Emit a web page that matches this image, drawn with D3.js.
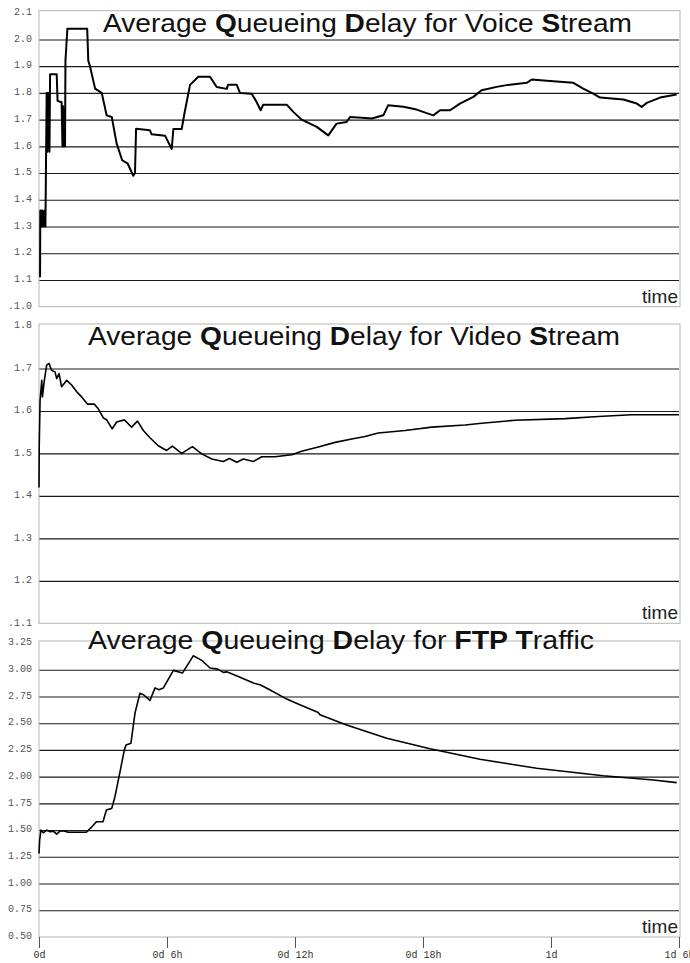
<!DOCTYPE html>
<html>
<head>
<meta charset="utf-8">
<script src="https://d3js.org/d3.v7.min.js"></script>
<style>
  body { margin:0; background:#fff; }
  .grid line { stroke:#1a1a1a; stroke-width:1.1px; }
  .grid path { display:none; }
  .ylab text { fill:#555; font-family:"Courier New","Liberation Mono",monospace; font-size:10px; }
  .ylab path, .ylab line { display:none; }
  .xaxis text { fill:#333; font-family:"Courier New","Liberation Mono",monospace; font-size:10px; }
  .xaxis path { display:none; }
  .xaxis line { stroke:#555; }
  .frame { fill:none; stroke:#b5b5b5; stroke-width:1px; }
  .series { fill:none; stroke:#000; stroke-width:2px; stroke-linejoin:round; }
  .series.thin { stroke-width:1.6px; }
  .title { font-family:Arial,"Liberation Sans",sans-serif; font-size:26px; fill:#111; }
  .title .b { font-weight:bold; }
  .timelab { font-family:Arial,"Liberation Sans",sans-serif; font-size:19px; fill:#222; text-anchor:end; }
</style>
</head>
<body>
<div id="chart"></div>
<script>
// time in hours, delay values
var voiceHours = [0.05,0.06,0.09,0.12,0.16,0.21,0.26,0.30,0.36,0.39,0.41,0.44,0.46,0.49,0.52,0.83,0.87,1.06,1.10,1.13,1.16,1.20,1.22,1.24,1.33,2.26,2.31,2.39,2.63,2.94,3.17,3.41,3.64,3.90,4.16,4.42,4.50,4.55,5.20,5.28,5.91,6.22,6.30,6.69,6.81,7.08,7.47,8.02,8.33,8.80,8.86,9.27,9.42,9.97,10.20,10.39,10.51,11.61,11.92,12.31,13.02,13.56,13.95,14.42,14.58,15.13,15.60,16.14,16.37,17.08,17.70,18.48,18.80,19.27,19.73,20.36,20.75,21.45,21.92,22.86,23.10,23.80,25.05,25.51,25.98,26.30,27.39,28.02,28.25,28.49,29.11,29.89];
var voiceDelay = [1.11,1.36,1.36,1.30,1.36,1.30,1.36,1.30,1.80,1.58,1.80,1.60,1.80,1.58,1.87,1.87,1.77,1.765,1.60,1.75,1.60,1.70,1.60,1.92,2.04,2.04,1.92,1.90,1.816,1.80,1.716,1.71,1.61,1.548,1.535,1.49,1.50,1.666,1.66,1.645,1.64,1.59,1.665,1.665,1.72,1.83,1.86,1.86,1.822,1.815,1.83,1.83,1.80,1.797,1.766,1.735,1.756,1.756,1.729,1.70,1.673,1.641,1.685,1.691,1.71,1.707,1.704,1.716,1.754,1.748,1.7375,1.716,1.735,1.735,1.76,1.785,1.81,1.8225,1.829,1.8375,1.85,1.845,1.8375,1.816,1.7975,1.7825,1.775,1.76,1.7475,1.7625,1.7825,1.794];

var videoHours = [0.00,0.01,0.05,0.13,0.16,0.25,0.36,0.47,0.59,0.75,0.83,0.94,1.06,1.30,1.53,1.77,2.00,2.28,2.59,2.78,3.01,3.17,3.43,3.64,4.00,4.34,4.62,4.89,5.20,5.59,5.98,6.25,6.69,7.19,7.63,8.10,8.64,8.92,9.27,9.58,10.05,10.44,11.06,11.85,12.31,13.09,13.88,14.66,15.28,15.90,17.16,18.41,19.97,20.75,22.31,24.66,26.22,27.78,29.03,30.00];
var videoDelay = [1.42,1.514,1.625,1.672,1.633,1.672,1.708,1.712,1.696,1.692,1.676,1.688,1.657,1.672,1.661,1.645,1.633,1.616,1.616,1.605,1.584,1.579,1.558,1.574,1.579,1.562,1.576,1.554,1.537,1.518,1.507,1.517,1.50,1.516,1.499,1.487,1.481,1.488,1.479,1.487,1.481,1.492,1.492,1.497,1.505,1.515,1.526,1.534,1.54,1.548,1.554,1.562,1.567,1.571,1.578,1.582,1.587,1.591,1.591,1.591];

var ftpHours = [0.00,0.03,0.09,0.20,0.36,0.52,0.67,0.83,0.98,1.14,1.37,1.53,2.22,2.45,2.69,3.00,3.16,3.41,3.56,3.80,4.00,4.08,4.31,4.50,4.73,4.90,5.20,5.44,5.62,5.83,6.30,6.73,7.23,7.63,8.02,8.38,8.64,8.80,9.34,10.05,10.36,10.75,11.53,12.31,13.09,13.17,14.42,16.30,18.33,20.67,23.33,26.45,28.80,29.89];
var ftpDelay = [1.28,1.406,1.50,1.475,1.50,1.484,1.49,1.4625,1.49,1.494,1.48,1.48,1.48,1.525,1.578,1.578,1.6875,1.703,1.8125,2.047,2.25,2.297,2.3125,2.594,2.78,2.766,2.7125,2.83,2.8125,2.83,2.994,2.97,3.13,3.0875,3.016,3.006,2.975,2.98,2.9375,2.875,2.86,2.82,2.734,2.666,2.60,2.578,2.484,2.359,2.26,2.1625,2.078,2.009,1.969,1.944];

var timeTicks = [0,6,12,18,24,30];
var timeTickLabels = ["0d","0d 6h","0d 12h","0d 18h","1d","1d 6h"];

var voiceTicks = [2.1,2.0,1.9,1.8,1.7,1.6,1.5,1.4,1.3,1.2,1.1,1.0];
var voiceTickLabels = ["2.1","2.0","1.9","1.8","1.7","1.6","1.5","1.4","1.3","1.2","1.1",".1.0"];
var videoTicks = [1.8,1.7,1.6,1.5,1.4,1.3,1.2,1.1];
var videoTickLabels = ["1.8","1.7","1.6","1.5","1.4","1.3","1.2",".1.1"];
var ftpTicks = [3.25,3.0,2.75,2.5,2.25,2.0,1.75,1.5,1.25,1.0,0.75,0.5];
var ftpTickLabels = ["3.25","3.00","2.75","2.50","2.25","2.00","1.75","1.50","1.25","1.00","0.75","0.50"];

var W = 690, H = 963;
var left = 39, right = 680;

var svg = d3.select("#chart").append("svg")
  .attr("width", W).attr("height", H);

var x = d3.scaleLinear().domain([0,30]).range([left, 679]);

var panels = [
  {hours:voiceHours, vals:voiceDelay, ticks:voiceTicks, labels:voiceTickLabels, dom:[1.0,2.1], top:12.7, bot:306.7,
   title:[["Average ",0],["Q",1],["ueueing ",0],["D",1],["elay for Voice ",0],["S",1],["tream",0]], tx:103, tw:529, ty:32},
  {hours:videoHours, vals:videoDelay, ticks:videoTicks, labels:videoTickLabels, dom:[1.1,1.8], top:326, bot:623.3,
   title:[["Average ",0],["Q",1],["ueueing ",0],["D",1],["elay for Video ",0],["S",1],["tream",0]], tx:88, tw:532, ty:345},
  {hours:ftpHours, vals:ftpDelay, ticks:ftpTicks, labels:ftpTickLabels, dom:[0.5,3.25], top:643, bot:937,
   title:[["Average ",0],["Q",1],["ueueing ",0],["D",1],["elay for ",0],["FTP T",1],["raffic",0]], tx:88, tw:506, ty:649}
];

panels.forEach(function(p, k){
  var y = d3.scaleLinear().domain(p.dom).range([p.bot, p.top]);
  var g = svg.append("g");

  // gridlines, all ticks but the top and bottom ones
  var inner = p.ticks.slice(1, p.ticks.length-1);
  g.append("g").attr("class","grid")
    .attr("transform","translate("+left+",0)")
    .call(d3.axisLeft(y).tickValues(inner).tickSize(-(right-left-1)).tickFormat(""));

  g.append("rect").attr("class","frame")
    .attr("x", left).attr("y", p.top - 2)
    .attr("width", right-left).attr("height", p.bot - p.top + 2);

  g.append("g").attr("class","ylab")
    .attr("transform","translate("+(left-1)+",-1.5)")
    .call(d3.axisLeft(y).tickValues(p.ticks).tickSize(0).tickPadding(6)
      .tickFormat(function(d,i){ return p.labels[i]; }));

  var line = d3.line()
    .x(function(d){ return x(d[0]); })
    .y(function(d){ return y(d[1]); });
  g.append("path").attr("class", k == 0 ? "series" : "series thin")
    .attr("d", line(d3.zip(p.hours, p.vals)));

  var t = g.append("text").attr("class","title")
    .attr("x", p.tx).attr("y", p.ty)
    .attr("textLength", p.tw).attr("lengthAdjust","spacingAndGlyphs");
  p.title.forEach(function(s){
    t.append("tspan").attr("class", s[1] ? "b" : null).text(s[0]);
  });

  g.append("text").attr("class","timelab")
    .attr("x", right-2).attr("y", p.bot-4).text("time");

  if (k == 2) {
    g.append("g").attr("class","xaxis")
      .attr("transform","translate(0,"+p.bot+")")
      .call(d3.axisBottom(x).tickValues(timeTicks).tickSize(11).tickPadding(3)
        .tickFormat(function(d,i){ return timeTickLabels[i]; }));
  }
});
</script>
</body>
</html>
